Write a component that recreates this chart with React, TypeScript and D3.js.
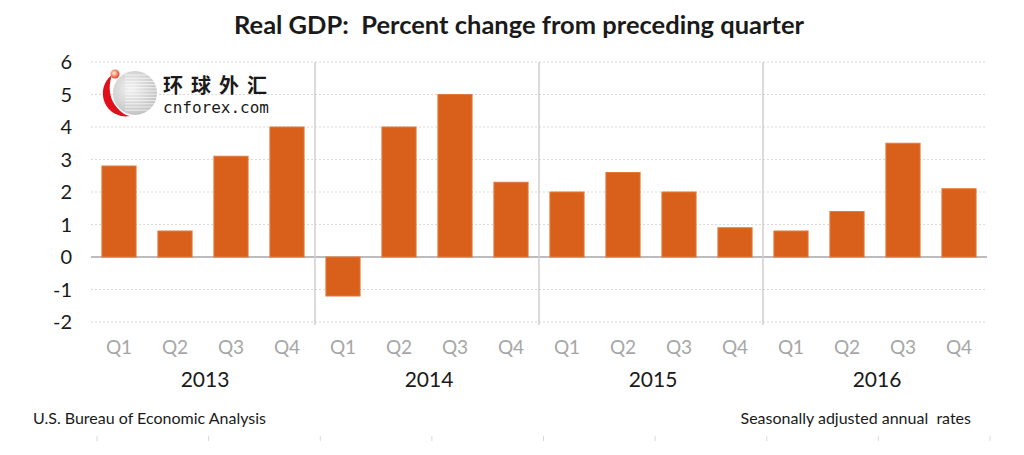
import * as d3 from "d3";

const years = ["2013", "2014", "2015", "2016"];
const quarters = ["Q1", "Q2", "Q3", "Q4"];
const gdp2013 = [2.8, 0.8, 3.1, 4.0];
const gdp2014 = [-1.2, 4.0, 5.0, 2.3];
const gdp2015 = [2.0, 2.6, 2.0, 0.9];
const gdp2016 = [0.8, 1.4, 3.5, 2.1];
const yTicks = [6, 5, 4, 3, 2, 1, 0, -1, -2];

const W = 1024;
const H = 455;
const FONT = "Lato, 'Open Sans', sans-serif";
const BAR = "#D9601A";

export default function App() {
  const series = [gdp2013, gdp2014, gdp2015, gdp2016];
  const data = years.flatMap((y, i) =>
    quarters.map((q, j) => ({ key: `${y}-${q}`, year: y, q, value: series[i][j] }))
  );

  const x = d3
    .scaleBand<string>()
    .domain(data.map((d) => d.key))
    .range([91, 987])
    .paddingInner(0.39)
    .paddingOuter(0.195);
  const y = d3.scaleLinear().domain([-2, 6]).range([322, 62]);
  const yearX = d3.scaleBand<string>().domain(years).range([91, 987]);
  const footTicks = d3.range(9).map((i) => 97 + i * ((990 - 97) / 8));

  return (
    <svg
      width={W}
      height={H}
      style={{ position: "absolute", left: 0, top: 0, background: "#fff" }}
      fontFamily={FONT}
    >
      <text
        x={519}
        y={34}
        textAnchor="middle"
        fontSize={25.5}
        fontWeight="bold"
        fill="#1a1a1a"
        style={{ whiteSpace: "pre" }}
      >
        {"Real GDP:  Percent change from preceding quarter"}
      </text>

      {/* gridlines */}
      {yTicks.map((t) => (
        <line
          key={t}
          x1={91}
          x2={987}
          y1={y(t)}
          y2={y(t)}
          stroke={t === 0 ? "#a6a6a6" : "#d9d9d9"}
          strokeWidth={t === 0 ? 1.5 : 1}
          strokeDasharray={t === 0 ? undefined : "2 2"}
        />
      ))}
      {yTicks.map((t) => (
        <text key={t} x={72} y={y(t) + 7} textAnchor="end" fontSize={20} fill="#1a1a1a">
          {t}
        </text>
      ))}

      {/* year separators */}
      {years.slice(1).map((yr) => (
        <line
          key={yr}
          x1={yearX(yr)}
          x2={yearX(yr)}
          y1={y(6)}
          y2={y(-2) + 3}
          stroke="#cfcfcf"
          strokeWidth={1.5}
        />
      ))}

      {/* bars */}
      {data.map((d) => (
        <rect
          key={d.key}
          x={x(d.key)}
          y={y(Math.max(0, d.value))}
          width={x.bandwidth()}
          height={Math.abs(y(d.value) - y(0))}
          fill={BAR}
          stroke="#e27a3c"
          strokeWidth={1}
        />
      ))}

      {/* quarter labels */}
      {data.map((d) => (
        <text
          key={d.key}
          x={(x(d.key) ?? 0) + x.bandwidth() / 2}
          y={354}
          textAnchor="middle"
          fontSize={19}
          fill="#a6a6a6"
        >
          {d.q}
        </text>
      ))}
      {years.map((yr) => (
        <text
          key={yr}
          x={(yearX(yr) ?? 0) + yearX.bandwidth() / 2 + 2}
          y={387}
          textAnchor="middle"
          fontSize={21}
          fill="#1a1a1a"
        >
          {yr}
        </text>
      ))}

      <text x={33} y={424} fontSize={16} fill="#1a1a1a">
        U.S. Bureau of Economic Analysis
      </text>
      <text x={971} y={424} textAnchor="end" fontSize={16} fill="#1a1a1a" style={{ whiteSpace: "pre" }}>
        {"Seasonally adjusted annual  rates"}
      </text>
      {footTicks.map((fx, i) => (
        <line key={i} x1={fx} x2={fx} y1={436} y2={441} stroke="#d9d9d9" />
      ))}

      {/* logo */}
      <g>
        <defs>
          <radialGradient id="sph" cx="0.4" cy="0.4" r="0.7">
            <stop offset="0%" stopColor="#f2f2f2" />
            <stop offset="100%" stopColor="#bdbdbd" />
          </radialGradient>
          <radialGradient id="dot" cx="0.4" cy="0.4" r="0.6">
            <stop offset="0%" stopColor="#fff3d0" />
            <stop offset="100%" stopColor="#e8402a" />
          </radialGradient>
        </defs>
        <circle cx={135} cy={93} r={22} fill="url(#sph)" />
        {d3.range(12).map((i) => (
          <line key={i} x1={125} x2={158} y1={75 + i * 3.2} y2={75 + i * 3.2} stroke="#fff" strokeWidth={1} opacity={0.7} />
        ))}
        <path d="M112,75 A23,23 0 0 0 130,116 A26,26 0 0 1 112,75 Z" fill="#e0101b" />
        <path d="M112,75 C100,90 105,110 128,116 C112,108 106,92 112,75 Z" fill="#e0101b" />
        <circle cx={115} cy={74} r={4.5} fill="url(#dot)" />
        <text x={163} y={93} fontSize={20} fontFamily="'Noto Sans CJK SC', sans-serif" fontWeight="bold" fill="#1a1a1a" letterSpacing={8}>
          环球外汇
        </text>
        <text x={163} y={113} fontSize={16} fontFamily="'DejaVu Sans Mono', monospace" fill="#1a1a1a">
          cnforex.com
        </text>
      </g>
    </svg>
  );
}
